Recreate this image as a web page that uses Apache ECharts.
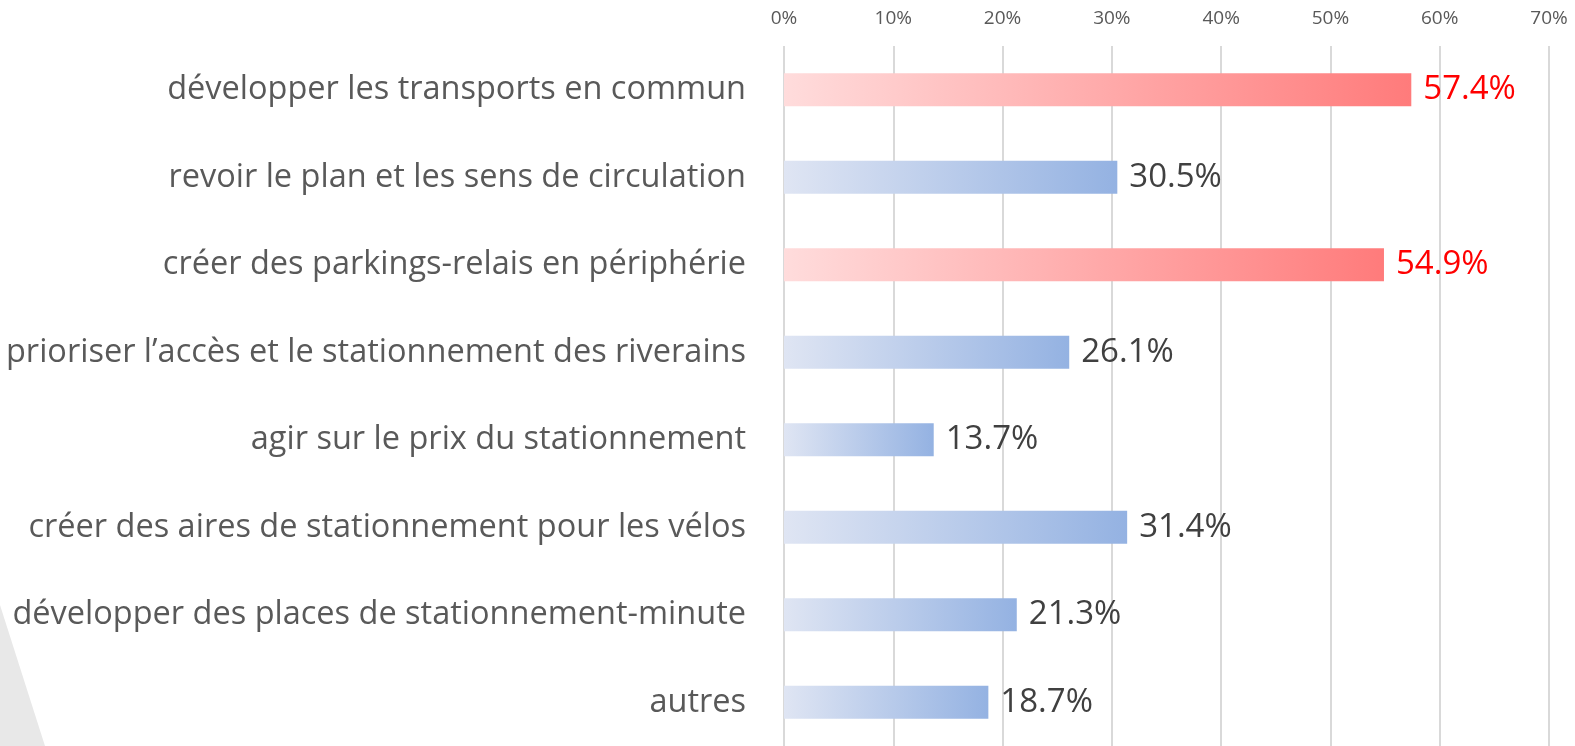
<!DOCTYPE html>
<html>
<head>
<meta charset="utf-8">
<script src="https://cdn.jsdelivr.net/npm/echarts@6/dist/echarts.min.js"></script>
<style>
  html, body { margin: 0; padding: 0; background: #fff; }
  #chart { width: 1575px; height: 746px; }
</style>
</head>
<body>
<div id="chart"></div>
<script>
// données (du haut vers le bas)
const categories = [
  "développer les transports en commun",
  "revoir le plan et les sens de circulation",
  "créer des parkings-relais en périphérie",
  "prioriser l’accès et le stationnement des riverains",
  "agir sur le prix du stationnement",
  "créer des aires de stationnement pour les vélos",
  "développer des places de stationnement-minute",
  "autres"
];
const values = [57.4, 30.5, 54.9, 26.1, 13.7, 31.4, 21.3, 18.7];
const highlighted = [true, false, true, false, false, false, false, false];

const redGrad = new echarts.graphic.LinearGradient(0, 0, 1, 0, [
  { offset: 0, color: "#ffdcdc" },
  { offset: 1, color: "#ff7b7b" }
]);
const blueGrad = new echarts.graphic.LinearGradient(0, 0, 1, 0, [
  { offset: 0, color: "#dfe5f3" },
  { offset: 1, color: "#94b2e2" }
]);

const chart = echarts.init(document.getElementById("chart"));

const option = {
  animation: false,
  graphic: [
    {
      // bande grise décorative en bas à gauche
      type: "polygon",
      silent: true,
      z: -10,
      shape: { points: [[0, 605], [45, 746], [0, 746]] },
      style: { fill: "#e8e8e8" }
    }
  ],
  grid: {
    left: 784,
    right: 26,
    top: 46,
    height: 705
  },
  xAxis: {
    type: "value",
    position: "top",
    min: 0,
    max: 70,
    interval: 10,
    axisLine: { show: false },
    axisTick: { show: false },
    axisLabel: {
      margin: 18,
      color: "#595959",
      fontFamily: "Open Sans",
      fontSize: 19,
      formatter: v => v + "%"
    },
    splitLine: { lineStyle: { color: "#d9d9d9", width: 2 } }
  },
  yAxis: {
    type: "category",
    inverse: true,
    data: categories,
    axisLine: { show: false },
    axisTick: { show: false },
    axisLabel: {
      margin: 38,
      color: "#595959",
      fontFamily: "Open Sans",
      fontSize: 32.5
    }
  },
  series: [
    {
      type: "bar",
      barWidth: 33,
      data: values.map((v, i) => ({
        value: v,
        itemStyle: { color: highlighted[i] ? redGrad : blueGrad },
        label: { color: highlighted[i] ? "#ff0000" : "#404040" }
      })),
      label: {
        show: true,
        position: "right",
        distance: 12,
        fontFamily: "Open Sans",
        fontSize: 33,
        formatter: p => p.value.toFixed(1) + "%"
      }
    }
  ]
};

chart.setOption(option);
</script>
</body>
</html>
